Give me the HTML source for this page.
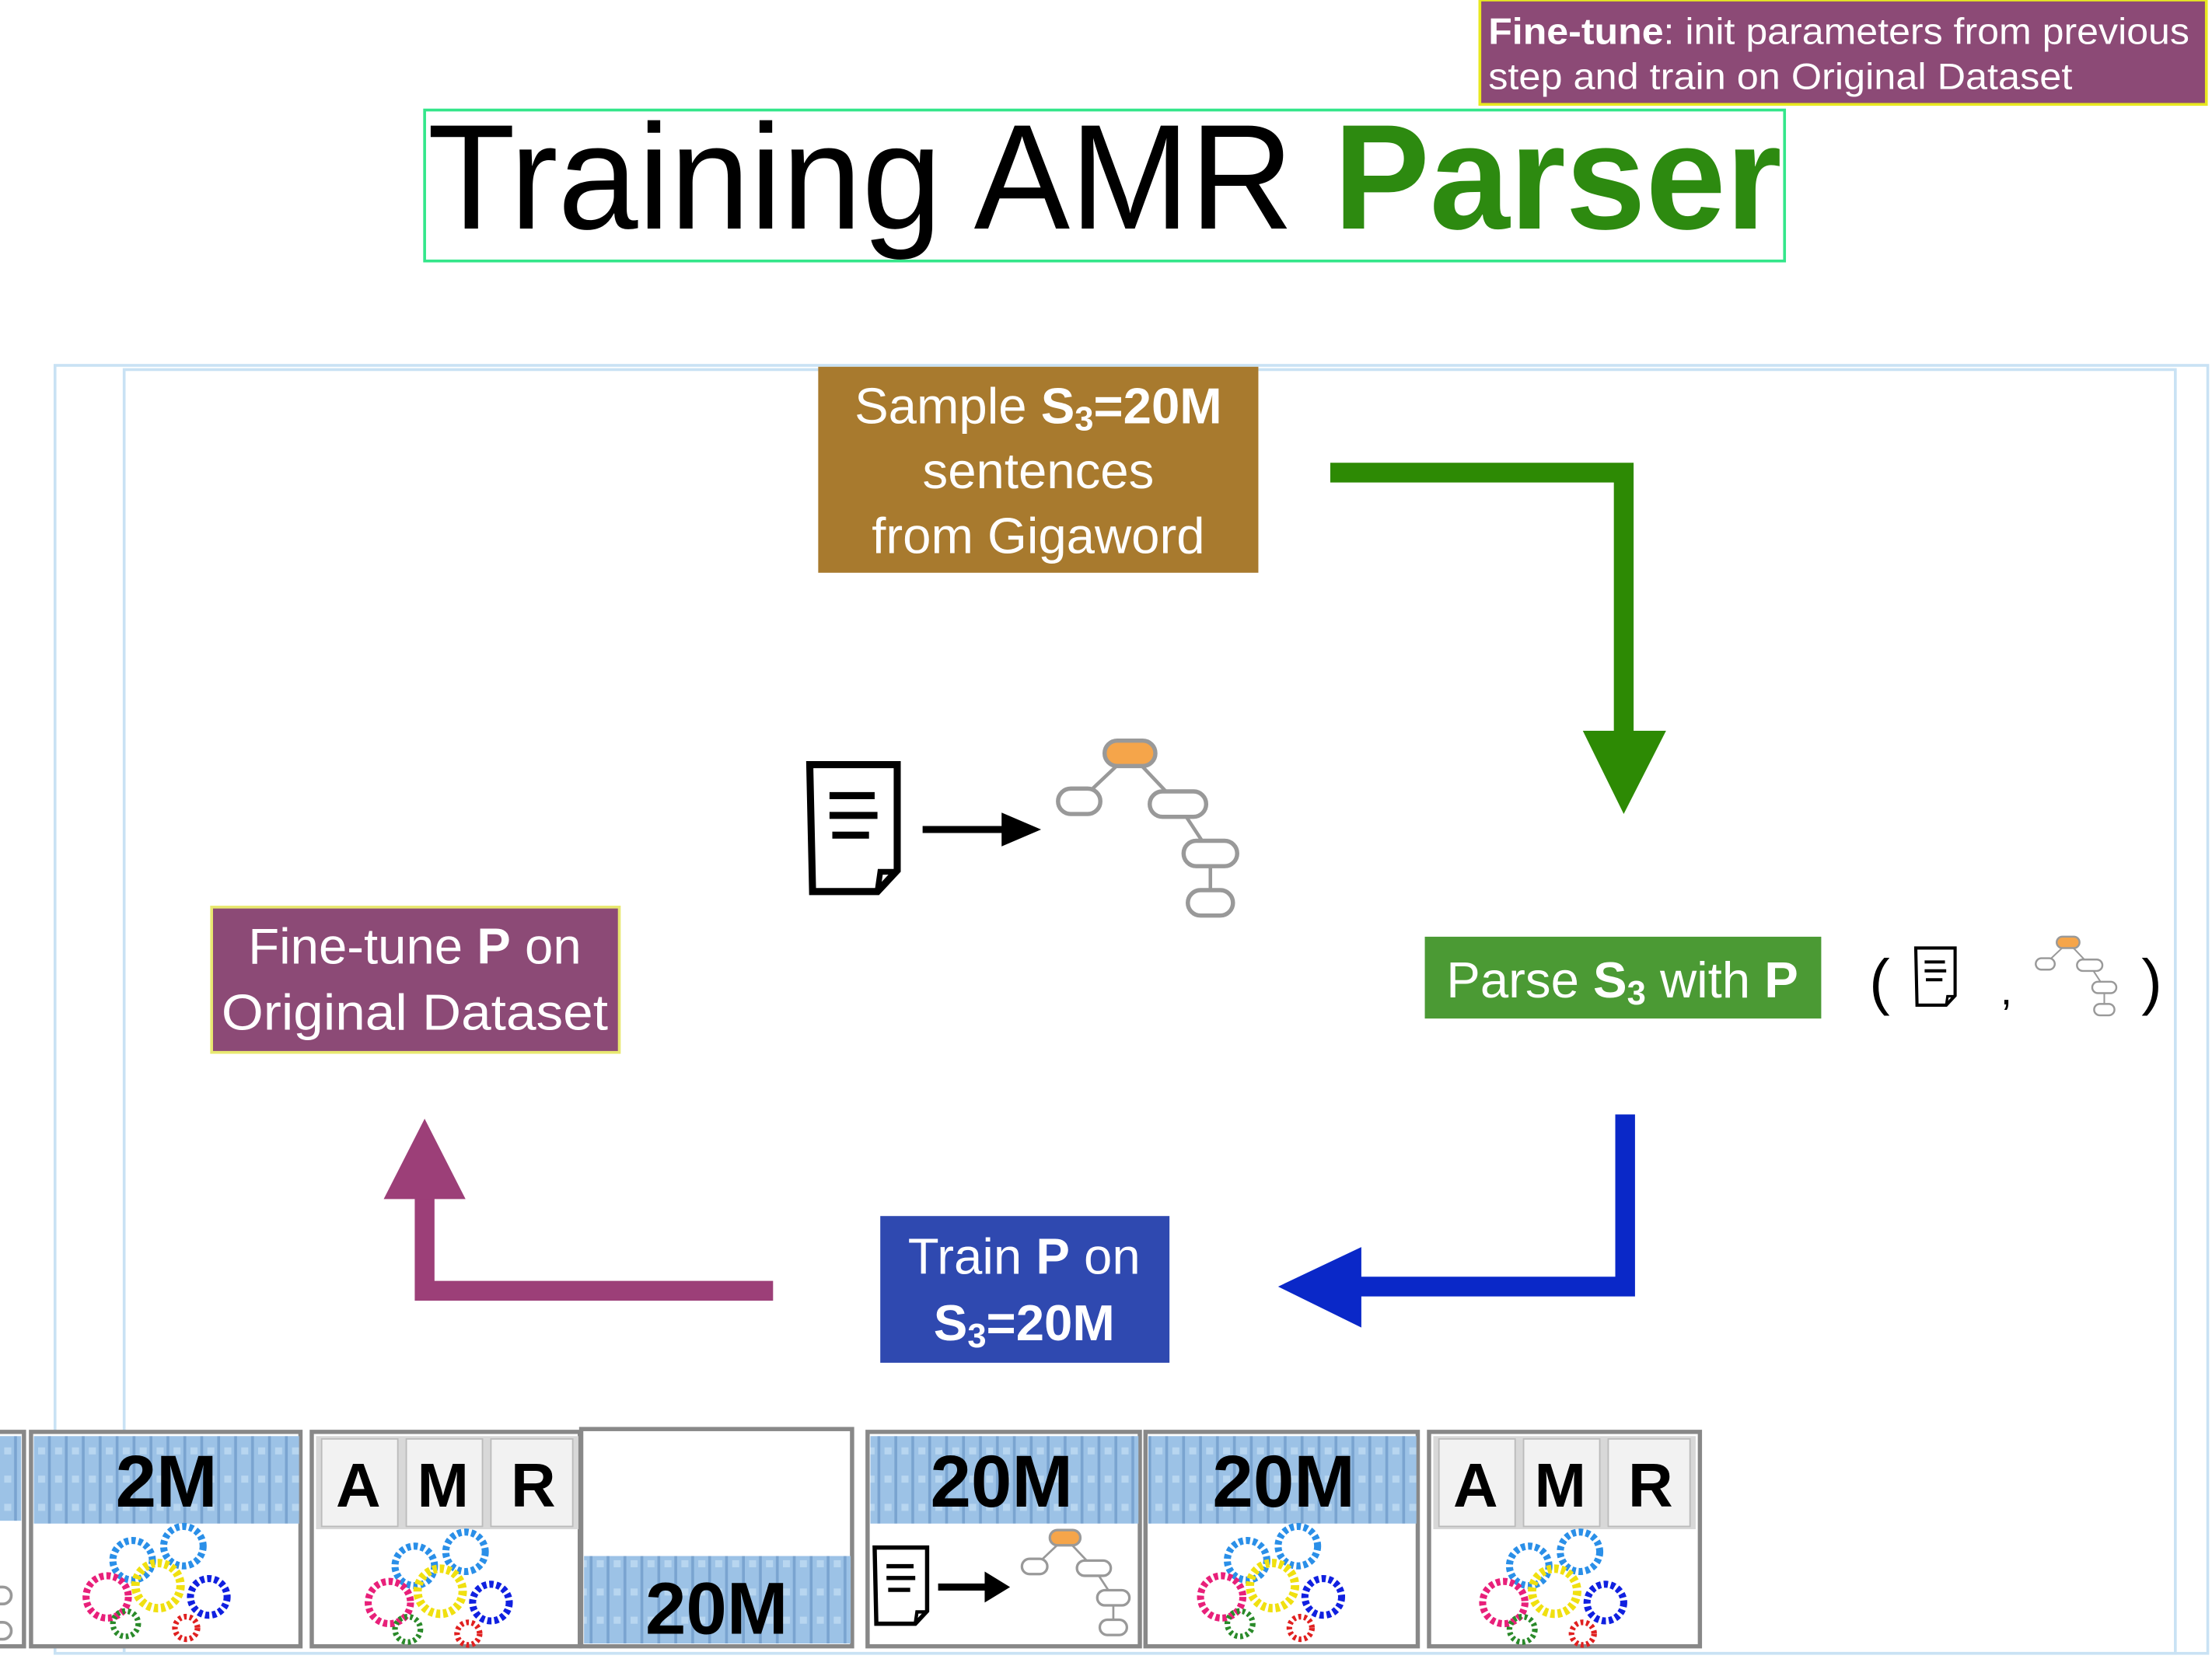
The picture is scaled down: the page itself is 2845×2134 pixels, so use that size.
<!DOCTYPE html>
<html><head><meta charset="utf-8"><style>
html,body{margin:0;padding:0;background:#fff;}
svg{display:block;}
text{font-family:"Liberation Sans",sans-serif;}
</style></head><body>
<svg width="2845" height="2134" viewBox="0 0 1568 1176" preserveAspectRatio="none" xmlns="http://www.w3.org/2000/svg">
<defs>
<g id="gears">
 <circle cx="0" cy="0" r="14" fill="none" stroke="#2a8fe8" stroke-width="5" stroke-dasharray="3 2"/>
 <circle cx="36" cy="-10" r="14" fill="none" stroke="#2a8fe8" stroke-width="5" stroke-dasharray="3 2"/>
 <circle cx="18" cy="18" r="16" fill="none" stroke="#f0e010" stroke-width="6" stroke-dasharray="3 2"/>
 <circle cx="-18" cy="26" r="15" fill="none" stroke="#e8207a" stroke-width="5" stroke-dasharray="3 2"/>
 <circle cx="54" cy="26" r="13" fill="none" stroke="#1020e0" stroke-width="5" stroke-dasharray="3 2"/>
 <circle cx="-5" cy="45" r="9" fill="none" stroke="#2a8a2a" stroke-width="4" stroke-dasharray="2 2"/>
 <circle cx="38" cy="48" r="8" fill="none" stroke="#e02020" stroke-width="4" stroke-dasharray="2 2"/>
</g>
<g id="tree">
 <line x1="0" y1="0" x2="-36" y2="34" stroke="#999" stroke-width="2.5"/>
 <line x1="0" y1="0" x2="34" y2="36" stroke="#999" stroke-width="2.5"/>
 <line x1="34" y1="36" x2="57" y2="71" stroke="#999" stroke-width="2.5"/>
 <line x1="57" y1="71" x2="57" y2="106" stroke="#999" stroke-width="2.5"/>
 <rect x="-18" y="-9" width="36" height="18" rx="9" fill="#f5a54a" stroke="#999" stroke-width="3"/>
 <rect x="-51" y="25" width="30" height="18" rx="9" fill="#fff" stroke="#999" stroke-width="3"/>
 <rect x="14" y="27" width="40" height="18" rx="9" fill="#fff" stroke="#999" stroke-width="3"/>
 <rect x="38" y="62" width="38" height="18" rx="9" fill="#fff" stroke="#999" stroke-width="3"/>
 <rect x="41" y="97" width="32" height="18" rx="9" fill="#fff" stroke="#999" stroke-width="3"/>
</g>
<g id="doc">
 <path d="M0 0 H62 V75 L48 90 H2 Z" fill="#fff" stroke="#000" stroke-width="5"/>
 <path d="M48 90 L50 76 H62" fill="none" stroke="#000" stroke-width="4"/>
 <line x1="14" y1="22" x2="46" y2="22" stroke="#000" stroke-width="5"/>
 <line x1="14" y1="36" x2="48" y2="36" stroke="#000" stroke-width="5"/>
 <line x1="16" y1="50" x2="42" y2="50" stroke="#000" stroke-width="5"/>
</g>
<pattern id="books" width="12" height="20" patternUnits="userSpaceOnUse">
 <rect width="12" height="20" fill="#9cc2e6"/><line x1="11" y1="0" x2="11" y2="20" stroke="#7aa4d0" stroke-width="2"/><rect x="3" y="6" width="5" height="5" fill="#b8d6f0"/>
</pattern>
</defs>

<!-- header -->
<rect x="1049" y="0" width="515" height="74" fill="#8c4a76" stroke="#e8e820" stroke-width="2"/>
<text x="1055" y="31" font-size="26" fill="#fff" textLength="497" lengthAdjust="spacingAndGlyphs"><tspan font-weight="bold">Fine-tune</tspan>: init parameters from previous</text>
<text x="1055" y="63" font-size="26" fill="#fff" textLength="414" lengthAdjust="spacingAndGlyphs">step and train on Original Dataset</text>

<!-- title -->
<rect x="301" y="78" width="964" height="107" fill="none" stroke="#33e68a" stroke-width="2"/>
<text x="303" y="162" font-size="106" fill="#000" textLength="960" lengthAdjust="spacingAndGlyphs">Training AMR <tspan font-weight="bold" fill="#2d8a10">Parser</tspan></text>

<!-- diagram frames -->
<rect x="39" y="259" width="1526" height="913" fill="none" stroke="#c9e2f4" stroke-width="2"/>
<rect x="88" y="262" width="1454" height="910" fill="none" stroke="#c9e2f4" stroke-width="2"/>

<!-- sample box -->
<rect x="580" y="260" width="312" height="146" fill="#a87a2e"/>
<text x="736" y="300" font-size="36" fill="#fff" text-anchor="middle">Sample <tspan font-weight="bold">S<tspan font-size="24" dy="5">3</tspan><tspan dy="-5">=20M</tspan></tspan></text>
<text x="736" y="346" font-size="36" fill="#fff" text-anchor="middle">sentences</text>
<text x="736" y="392" font-size="36" fill="#fff" text-anchor="middle">from Gigaword</text>

<!-- green arrow -->
<path d="M943 335 H1151 V520" fill="none" stroke="#2d8a04" stroke-width="14"/>
<polygon points="1122,518 1181,518 1151,577" fill="#2d8a04"/>

<!-- center icon -->
<use href="#doc" x="574" y="542"/>
<line x1="654" y1="588" x2="712" y2="588" stroke="#000" stroke-width="5"/>
<polygon points="710,576 738,588 710,600" fill="#000"/>
<use href="#tree" x="801" y="534"/>

<!-- parse box -->
<rect x="1010" y="664" width="281" height="58" fill="#4b9a34"/>
<text x="1150" y="707" font-size="36" fill="#fff" text-anchor="middle">Parse <tspan font-weight="bold">S<tspan font-size="24" dy="5">3</tspan></tspan><tspan dy="-5"> with </tspan><tspan font-weight="bold">P</tspan></text>
<text x="1325" y="711" font-size="44" fill="#000">(</text>
<use href="#doc" transform="translate(1358,672) scale(0.45)"/>
<text x="1418" y="712" font-size="30" fill="#000">,</text>
<use href="#tree" transform="translate(1466,668) scale(0.45)"/>
<text x="1518" y="711" font-size="44" fill="#000">)</text>

<!-- fine-tune box -->
<rect x="150" y="643" width="289" height="103" fill="#8c4a76" stroke="#e8e870" stroke-width="2"/>
<text x="294" y="683" font-size="36" fill="#fff" text-anchor="middle">Fine-tune <tspan font-weight="bold">P</tspan> on</text>
<text x="294" y="730" font-size="36" fill="#fff" text-anchor="middle" textLength="274" lengthAdjust="spacingAndGlyphs">Original Dataset</text>

<!-- blue arrow -->
<path d="M1152 790 V912 H960" fill="none" stroke="#0a28c8" stroke-width="14"/>
<polygon points="965,884 965,941 906,912" fill="#0a28c8"/>

<!-- train box -->
<rect x="624" y="862" width="205" height="104" fill="#2f49b0"/>
<text x="726" y="903" font-size="36" fill="#fff" text-anchor="middle">Train <tspan font-weight="bold">P</tspan> on</text>
<text x="726" y="950" font-size="36" fill="#fff" text-anchor="middle" font-weight="bold">S<tspan font-size="24" dy="5">3</tspan><tspan dy="-5">=20M</tspan></text>

<!-- purple arrow -->
<path d="M548 915 H301 V848" fill="none" stroke="#9c3f78" stroke-width="14"/>
<polygon points="272,850 330,850 301,793" fill="#9c3f78"/>

<!-- bottom tiles -->
<g stroke="#888" stroke-width="3" fill="#fff">
<rect x="-5" y="1015" width="22" height="152"/>
<rect x="22" y="1015" width="191" height="152"/>
<rect x="221" y="1015" width="190" height="152"/>
<rect x="412" y="1013" width="192" height="154"/>
<rect x="615" y="1015" width="193" height="152"/>
<rect x="812" y="1015" width="193" height="152"/>
<rect x="1013" y="1015" width="192" height="152"/>
</g>
<rect x="0" y="1018" width="15" height="60" fill="url(#books)"/>
<rect x="24" y="1018" width="188" height="62" fill="url(#books)"/>
<rect x="414" y="1103" width="189" height="62" fill="url(#books)"/>
<rect x="617" y="1018" width="190" height="62" fill="url(#books)"/>
<rect x="814" y="1018" width="190" height="62" fill="url(#books)"/>
<g font-weight="bold" font-size="52" text-anchor="middle" fill="#000">
<text x="118" y="1068">2M</text>
<text x="710" y="1068">20M</text>
<text x="910" y="1068">20M</text>
<text x="508" y="1158">20M</text>
</g>
<!-- AMR tiles -->
<g>
<rect x="224" y="1018" width="186" height="66" fill="#d8d8d8"/>
<rect x="228" y="1020" width="54" height="62" fill="#f2f2f2" stroke="#bbb"/>
<rect x="288" y="1020" width="54" height="62" fill="#f2f2f2" stroke="#bbb"/>
<rect x="348" y="1020" width="58" height="62" fill="#f2f2f2" stroke="#bbb"/>
<text x="254" y="1068" font-size="44" font-weight="bold" text-anchor="middle">A</text>
<text x="314" y="1068" font-size="44" font-weight="bold" text-anchor="middle">M</text>
<text x="378" y="1068" font-size="44" font-weight="bold" text-anchor="middle">R</text>
<rect x="1016" y="1018" width="186" height="66" fill="#d8d8d8"/>
<rect x="1020" y="1020" width="54" height="62" fill="#f2f2f2" stroke="#bbb"/>
<rect x="1080" y="1020" width="54" height="62" fill="#f2f2f2" stroke="#bbb"/>
<rect x="1140" y="1020" width="58" height="62" fill="#f2f2f2" stroke="#bbb"/>
<text x="1046" y="1068" font-size="44" font-weight="bold" text-anchor="middle">A</text>
<text x="1106" y="1068" font-size="44" font-weight="bold" text-anchor="middle">M</text>
<text x="1170" y="1068" font-size="44" font-weight="bold" text-anchor="middle">R</text>
</g>
<use href="#gears" x="94" y="1106"/>
<use href="#gears" x="294" y="1110"/>
<use href="#gears" x="884" y="1106"/>
<use href="#gears" x="1084" y="1110"/>
<use href="#doc" transform="translate(620,1097) scale(0.6)"/>
<line x1="665" y1="1125" x2="700" y2="1125" stroke="#000" stroke-width="5"/>
<polygon points="698,1114 716,1125 698,1136" fill="#000"/>
<use href="#tree" transform="translate(755,1090) scale(0.6)"/>
<rect x="-6" y="1125" width="14" height="12" rx="6" fill="#fff" stroke="#999" stroke-width="2"/>
<rect x="-6" y="1150" width="14" height="12" rx="6" fill="#fff" stroke="#999" stroke-width="2"/>
</svg>
</body></html>
